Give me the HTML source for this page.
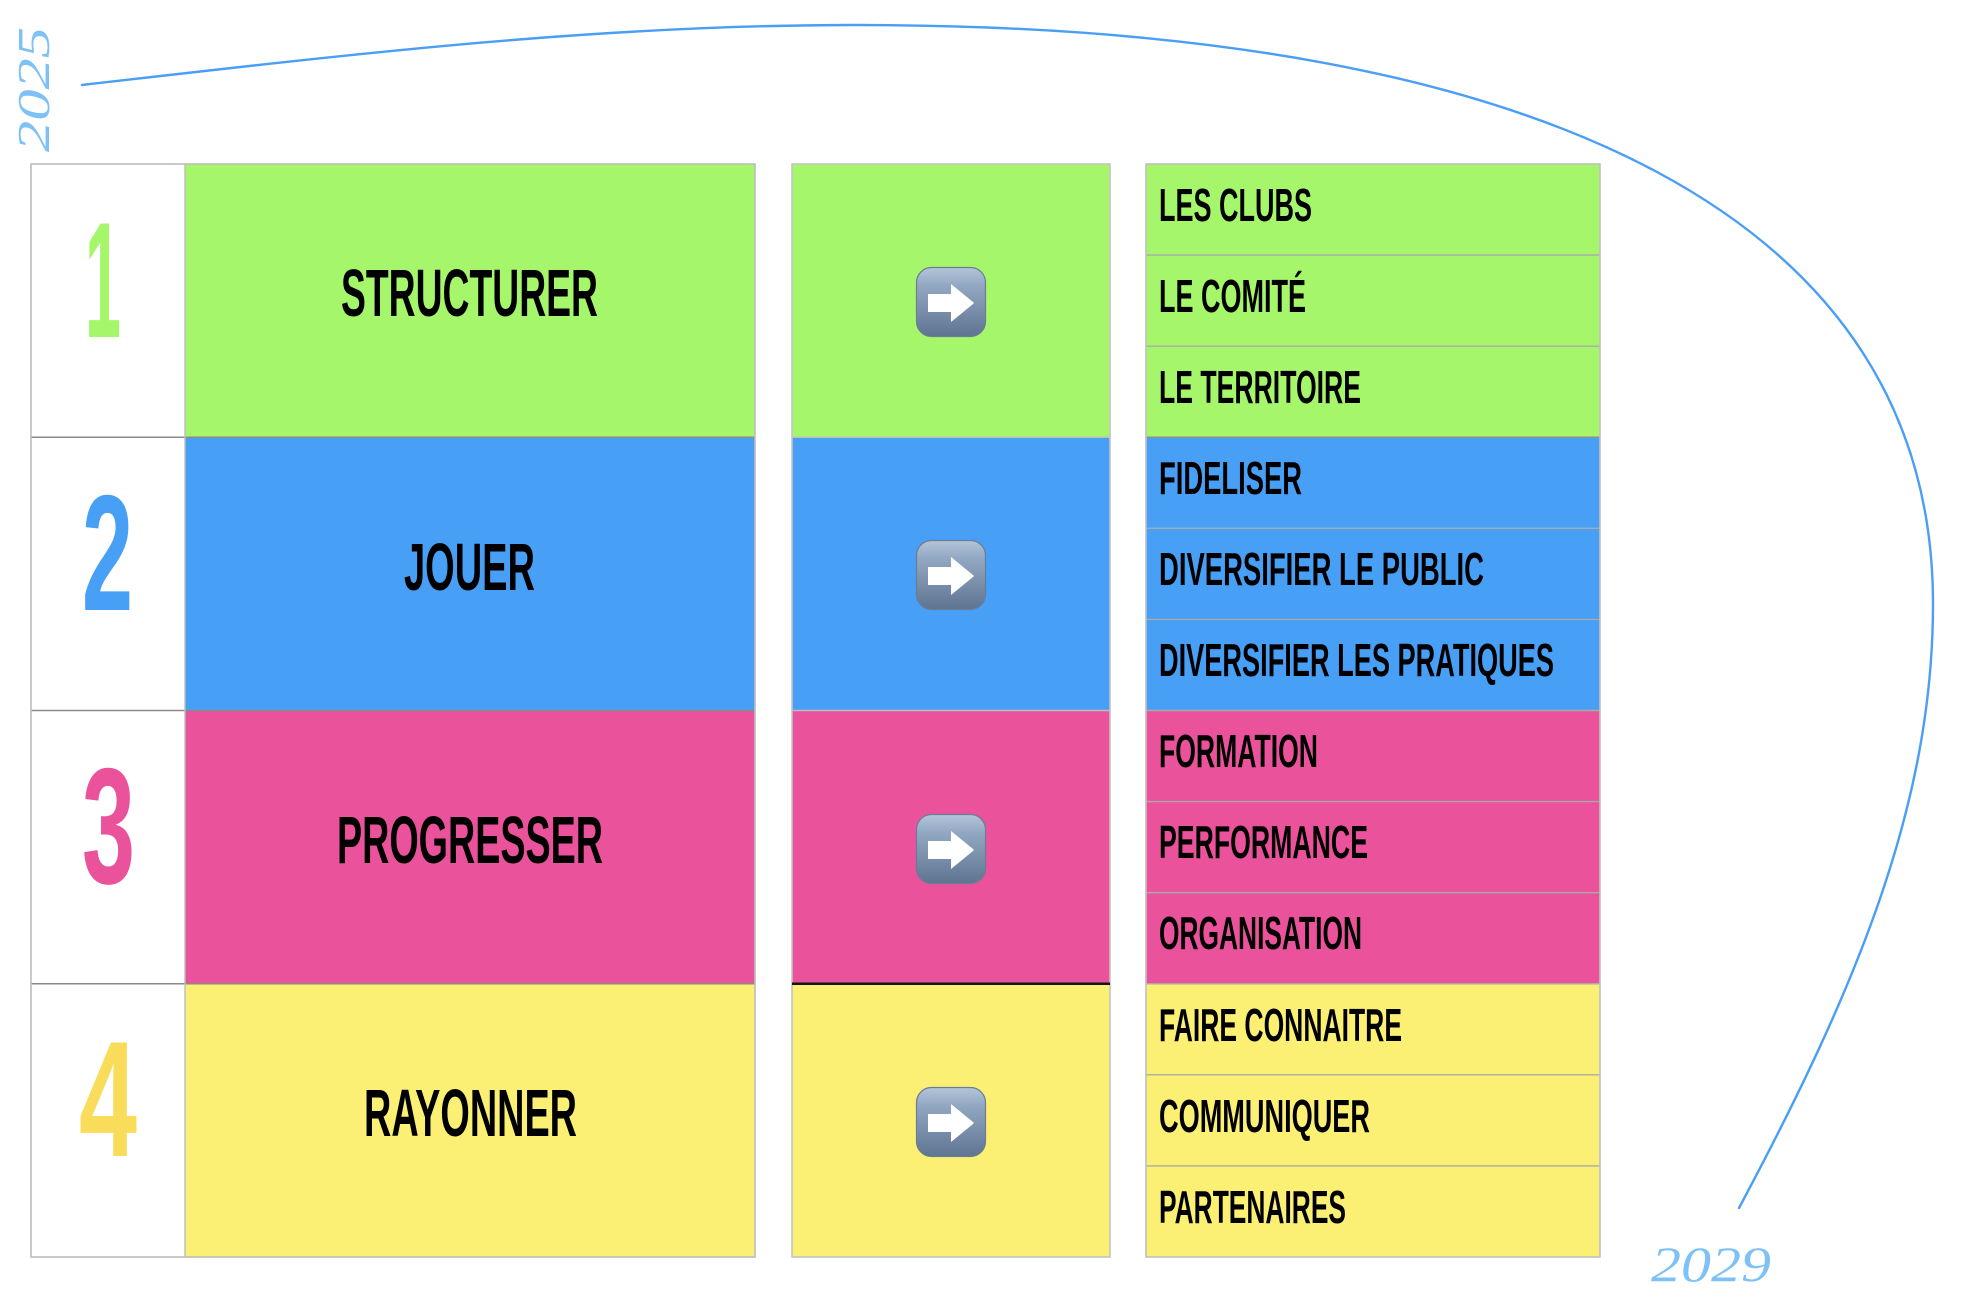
<!DOCTYPE html>
<html>
<head>
<meta charset="utf-8">
<style>
  html,body{margin:0;padding:0;background:#ffffff;}
  body{width:1974px;height:1316px;overflow:hidden;}
  svg{display:block;}
  .lbl{font-family:"Liberation Sans",Arial,sans-serif;font-weight:bold;fill:#000;}
  .num{font-family:"Liberation Sans",Arial,sans-serif;font-weight:bold;}
  .year{font-family:"Liberation Serif",serif;font-style:italic;fill:#7ec1f7;}
</style>
</head>
<body>
<svg width="1974" height="1316" viewBox="0 0 1974 1316" xmlns="http://www.w3.org/2000/svg">
  <defs>
    <linearGradient id="ig" x1="0" y1="0" x2="0" y2="1">
      <stop offset="0" stop-color="#b3c5da"/>
      <stop offset="0.25" stop-color="#93a9c3"/>
      <stop offset="1" stop-color="#5e7490"/>
    </linearGradient>
    <g id="icon">
      <rect x="0.5" y="0.5" width="69" height="69" rx="15" ry="15" fill="url(#ig)" stroke="#6a7d95" stroke-width="1.2"/>
      <path d="M12 27 L35 27 L35 17 L57 35 Q58.5 36 57 37 L35 55 L35 45 L12 45 Z" fill="#ffffff"/>
    </g>
  </defs>

  <rect x="0" y="0" width="1974" height="1316" fill="#ffffff"/>

  <!-- curve -->
  <path fill="none" stroke="#4a9ef5" stroke-width="2.4" stroke-linecap="round"
    d="M82 85 C382 50.5 606 25 856 25 C1556 25 1933 224 1933 604 C1933 804 1856.5 988 1739 1208"/>

  <!-- years -->
  <text class="year" transform="translate(49,152) rotate(-90)" font-size="46" textLength="125" lengthAdjust="spacingAndGlyphs">2025</text>
  <text class="year" x="1651" y="1281" font-size="50" textLength="120" lengthAdjust="spacingAndGlyphs">2029</text>

  <!-- LEFT TABLE -->
  <rect x="31" y="164" width="154" height="1093" fill="#ffffff"/>
  <rect x="185" y="164" width="570" height="273.25" fill="#a5f66b"/>
  <rect x="185" y="437.25" width="570" height="273.25" fill="#489ff6"/>
  <rect x="185" y="710.5" width="570" height="273.25" fill="#ea529b"/>
  <rect x="185" y="983.75" width="570" height="273.25" fill="#fbf074"/>
  <line x1="31" y1="437.25" x2="755" y2="437.25" stroke="#8a8a8a" stroke-width="1.6"/>
  <line x1="31" y1="710.5" x2="755" y2="710.5" stroke="#8a8a8a" stroke-width="1.6"/>
  <line x1="31" y1="983.75" x2="755" y2="983.75" stroke="#8a8a8a" stroke-width="1.6"/>
  <line x1="185" y1="164" x2="185" y2="1257" stroke="#bdbdbd" stroke-width="1.4"/>
  <rect x="31" y="164" width="724" height="1093" fill="none" stroke="#bdbdbd" stroke-width="1.6"/>

  <text class="num" x="85" y="337" font-size="165" fill="#a5f66b" textLength="36" lengthAdjust="spacingAndGlyphs">1</text>
  <text class="num" x="82" y="610" font-size="165" fill="#489ff6" textLength="51" lengthAdjust="spacingAndGlyphs">2</text>
  <text class="num" x="82" y="883" font-size="165" fill="#ea529b" textLength="53" lengthAdjust="spacingAndGlyphs">3</text>
  <text class="num" x="79" y="1156" font-size="165" fill="#f9dc59" textLength="58" lengthAdjust="spacingAndGlyphs">4</text>

  <text class="lbl" x="341" y="316" font-size="67" textLength="257" lengthAdjust="spacingAndGlyphs">STRUCTURER</text>
  <text class="lbl" x="404" y="590" font-size="67" textLength="131" lengthAdjust="spacingAndGlyphs">JOUER</text>
  <text class="lbl" x="337" y="863" font-size="67" textLength="266" lengthAdjust="spacingAndGlyphs">PROGRESSER</text>
  <text class="lbl" x="364" y="1136" font-size="67" textLength="213" lengthAdjust="spacingAndGlyphs">RAYONNER</text>

  <!-- MIDDLE COLUMN -->
  <rect x="792" y="164" width="318" height="273.25" fill="#a5f66b"/>
  <rect x="792" y="437.25" width="318" height="273.25" fill="#489ff6"/>
  <rect x="792" y="710.5" width="318" height="273.25" fill="#ea529b"/>
  <rect x="792" y="983.75" width="318" height="273.25" fill="#fbf074"/>
  <line x1="792" y1="437.25" x2="1110" y2="437.25" stroke="#bdbdbd" stroke-width="1.4"/>
  <line x1="792" y1="710.5" x2="1110" y2="710.5" stroke="#bdbdbd" stroke-width="1.4"/>
  <rect x="792" y="164" width="318" height="1093" fill="none" stroke="#c4c4c4" stroke-width="1.6"/>
  <line x1="792" y1="983.75" x2="1110" y2="983.75" stroke="#141414" stroke-width="2.4"/>

  <use href="#icon" x="916" y="267"/>
  <use href="#icon" x="916" y="540"/>
  <use href="#icon" x="916" y="814"/>
  <use href="#icon" x="916" y="1087"/>

  <!-- RIGHT COLUMN -->
  <rect x="1146" y="164" width="454" height="273.25" fill="#a5f66b"/>
  <rect x="1146" y="437.25" width="454" height="273.25" fill="#489ff6"/>
  <rect x="1146" y="710.5" width="454" height="273.25" fill="#ea529b"/>
  <rect x="1146" y="983.75" width="454" height="273.25" fill="#fbf074"/>
  <g stroke="#aaaaaa" stroke-width="1.4">
    <line x1="1146" y1="255.1" x2="1600" y2="255.1"/>
    <line x1="1146" y1="346.2" x2="1600" y2="346.2"/>
    <line x1="1146" y1="437.25" x2="1600" y2="437.25" stroke="#8f8f8f"/>
    <line x1="1146" y1="528.3" x2="1600" y2="528.3"/>
    <line x1="1146" y1="619.4" x2="1600" y2="619.4"/>
    <line x1="1146" y1="710.5" x2="1600" y2="710.5"/>
    <line x1="1146" y1="801.6" x2="1600" y2="801.6"/>
    <line x1="1146" y1="892.7" x2="1600" y2="892.7"/>
    <line x1="1146" y1="983.75" x2="1600" y2="983.75"/>
    <line x1="1146" y1="1074.8" x2="1600" y2="1074.8"/>
    <line x1="1146" y1="1165.9" x2="1600" y2="1165.9"/>
  </g>
  <rect x="1146" y="164" width="454" height="1093" fill="none" stroke="#c0c0c0" stroke-width="1.6"/>

  <text class="lbl" x="1159" y="221" font-size="46" textLength="153" lengthAdjust="spacingAndGlyphs">LES CLUBS</text>
  <text class="lbl" x="1159" y="312" font-size="46" textLength="147" lengthAdjust="spacingAndGlyphs">LE COMITÉ</text>
  <text class="lbl" x="1159" y="403" font-size="46" textLength="202" lengthAdjust="spacingAndGlyphs">LE TERRITOIRE</text>
  <text class="lbl" x="1159" y="494" font-size="46" textLength="143" lengthAdjust="spacingAndGlyphs">FIDELISER</text>
  <text class="lbl" x="1159" y="585" font-size="46" textLength="325" lengthAdjust="spacingAndGlyphs">DIVERSIFIER LE PUBLIC</text>
  <text class="lbl" x="1159" y="676" font-size="46" textLength="395" lengthAdjust="spacingAndGlyphs">DIVERSIFIER LES PRATIQUES</text>
  <text class="lbl" x="1159" y="767" font-size="46" textLength="159" lengthAdjust="spacingAndGlyphs">FORMATION</text>
  <text class="lbl" x="1159" y="858" font-size="46" textLength="209" lengthAdjust="spacingAndGlyphs">PERFORMANCE</text>
  <text class="lbl" x="1159" y="949" font-size="46" textLength="203" lengthAdjust="spacingAndGlyphs">ORGANISATION</text>
  <text class="lbl" x="1159" y="1041" font-size="46" textLength="243" lengthAdjust="spacingAndGlyphs">FAIRE CONNAITRE</text>
  <text class="lbl" x="1159" y="1132" font-size="46" textLength="211" lengthAdjust="spacingAndGlyphs">COMMUNIQUER</text>
  <text class="lbl" x="1159" y="1223" font-size="46" textLength="187" lengthAdjust="spacingAndGlyphs">PARTENAIRES</text>
</svg>
</body>
</html>
